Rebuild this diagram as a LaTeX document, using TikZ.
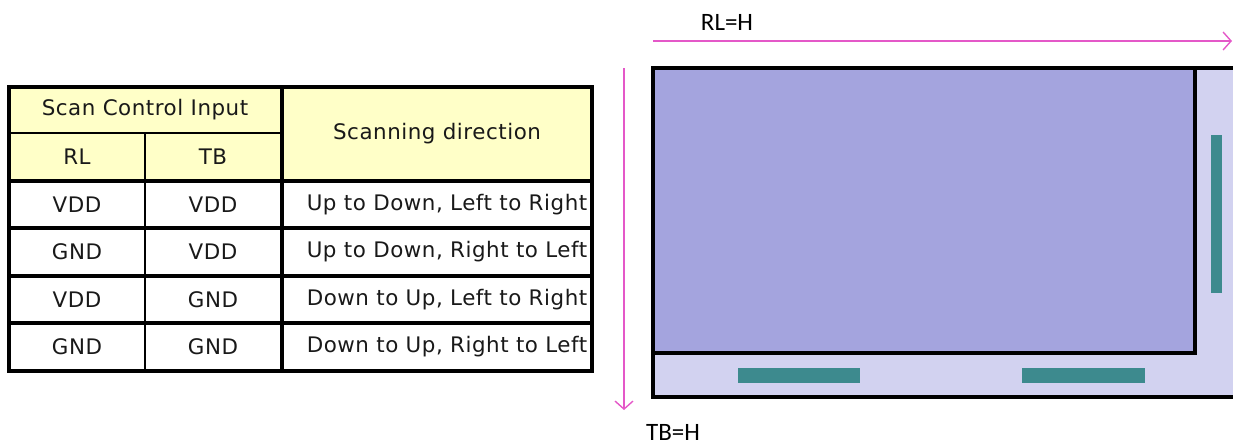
\documentclass[tikz,border=0pt]{standalone}
\usepackage{fontspec}
\setmainfont{DejaVu Sans}
\newfontfamily\lblfont{Carlito}
\usetikzlibrary{arrows.meta}
\definecolor{hdr}{RGB}{255,255,200}
\definecolor{panel}{RGB}{164,164,222}
\definecolor{panellt}{RGB}{210,210,240}
\definecolor{teal}{RGB}{61,138,142}
\definecolor{pinkarr}{RGB}{228,88,200}
\definecolor{txt}{RGB}{25,25,25}
\tikzset{
  thickln/.style={line width=3.2pt, draw=black, line cap=rect},
  thinln/.style={line width=1.6pt, draw=black},
  celltxt/.style={font=\fontsize{21.4}{24}\selectfont\addfontfeature{LetterSpace=2.5}, text=txt, inner sep=0pt},
  lbl/.style={font=\lblfont\fontsize{25}{28}\selectfont, text=black, inner sep=0pt},
  pinkarrow/.style={draw=pinkarr, line width=1.4pt, -{Straight Barb[length=8pt,width=18pt,line width=1.4pt]}},
  bar/.style={fill=teal}
}
\begin{document}
\begin{tikzpicture}[x=1pt,y=-1pt]
\useasboundingbox (0,0) rectangle (1233,444);
% ---------- table ----------
\fill[hdr] (9,87) rectangle (592,181);
\draw[thinln] (9,133) -- (282,133);
\draw[thinln] (145,133) -- (145,371);
\foreach \yy in {87,181,228,276,323,371} \draw[thickln] (9,\yy) -- (592,\yy);
\foreach \xx in {9,282,592} \draw[thickln] (\xx,87) -- (\xx,371);
\node[celltxt] (sci) at (145,110) {Scan Control Input};
\node[celltxt] (hrl) at (77,157) {RL};
\node[celltxt] (htb) at (213,157) {TB};
\node[celltxt] (hsd) at (437,134) {Scanning direction};
\node[celltxt] (a1) at (77,205) {VDD};
\node[celltxt] (b1) at (213,205) {VDD};
\node[celltxt] (c1) at (447,205) {Up to Down, Left to Right};
\node[celltxt] (a2) at (77,252) {GND};
\node[celltxt] (b2) at (213,252) {VDD};
\node[celltxt] (c2) at (447,252) {Up to Down, Right to Left};
\node[celltxt] (a3) at (77,300) {VDD};
\node[celltxt] (b3) at (213,300) {GND};
\node[celltxt] (c3) at (447,300) {Down to Up, Left to Right};
\node[celltxt] (a4) at (77,347) {GND};
\node[celltxt] (b4) at (213,347) {GND};
\node[celltxt] (c4) at (447,347) {Down to Up, Right to Left};
% ---------- panel ----------
\fill[panellt] (653,68) rectangle (1233,397);
\draw[thickln] (1234,68) -- (653,68) -- (653,397) -- (1234,397);
\fill[panel] (653,68) rectangle (1195,353);
\draw[thickln] (653,68) rectangle (1195,353);
\fill[bar] (738,368) rectangle (860,383);
\fill[bar] (1022,368) rectangle (1145,383);
\fill[bar] (1211,135) rectangle (1222,293);
% ---------- arrows ----------
\coordinate (hs) at (653,41);
\coordinate (he) at (1232,41);
\coordinate (vs) at (624,68);
\coordinate (ve) at (624,410);
\draw[pinkarrow] (hs) -- (he);
\draw[pinkarrow] (vs) -- (ve);
\node[lbl] (rlh) at (727,22) {RL=H};
\node[lbl] (tbh) at (673,432) {TB=H};
\end{tikzpicture}
\end{document}
